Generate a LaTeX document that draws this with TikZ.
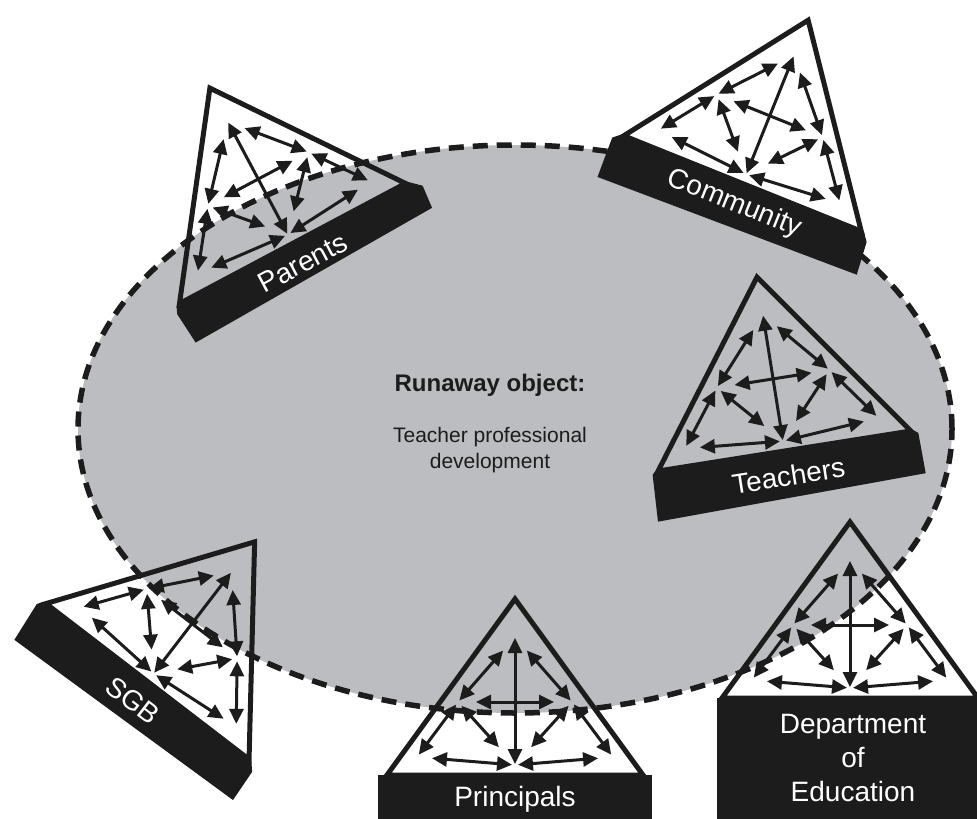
\documentclass[tikz,border=0pt]{standalone}
\usepackage{fontspec}
\setmainfont{Liberation Sans}
\usetikzlibrary{arrows.meta}
\definecolor{objgray}{RGB}{188,189,193}
\definecolor{ink}{RGB}{28,28,28}

\begin{document}
\begin{tikzpicture}[x=1pt, y=1pt,
  tri/.style={draw=ink, line width=5pt, line join=miter},
  rel/.style={draw=ink, line width=3pt, {Triangle[length=15pt,width=14pt]}-{Triangle[length=15pt,width=14pt]}},
  banner/.style={fill=ink},
  lbl/.style={text=white, font=\fontsize{28}{34}\selectfont, align=center, transform shape},
  actsys/.pic={
    \draw[tri] (-128,0) -- (0,176) -- (128,0) -- cycle;
    \coordinate (-T) at (0,138);
    \coordinate (-S) at (-57,73);
    \coordinate (-O) at (57,73);
    \coordinate (-R) at (-98,18);
    \coordinate (-C) at (0,10);
    \coordinate (-D) at (98,18);
    \foreach \a/\b/\sa/\sb in {T/C/1/1, T/S/18/2, T/O/18/2, S/O/18/18, S/R/3/3,
                               S/C/5/24, O/C/5/24, O/D/3/3, R/C/15/3, C/D/3/15}
      \draw[rel, shorten <=\sa pt, shorten >=\sb pt] (-\a) -- (-\b);
  }]

  \useasboundingbox (0,0) rectangle (977,-819);
  \clip (0,0) rectangle (977,-819);

  % Runaway object
  \draw[ink, line width=5.5pt, dash pattern=on 15pt off 9pt, fill=objgray]
    (515,-429) ellipse [x radius=437, y radius=284];
  \node[text=ink, font=\bfseries\fontsize{24}{28}\selectfont] (objtitle) at (490,-385) {Runaway object:};
  \node[text=ink, font=\fontsize{21}{26}\selectfont, align=center] (objtext) at (490,-450)
    {Teacher professional\\development};

  % Parents
  \begin{scope}[shift={(292.5,-243.5)}, rotate=28]
    \fill[banner] (-131,0) -- (131,0) -- (142,-10) -- (140,-34) -- (-132,-42) -- (-135,-8) -- cycle;
    \pic[transform shape] (par) {actsys};
    \node[lbl] (parL) at (0,-22) {Parents};
  \end{scope}

  % Community
  \begin{scope}[shift={(742.5,-183.5)}, rotate=-21.9]
    \fill[banner] (-131,0) -- (131,0) -- (137,-8) -- (140,-42) -- (-137,-48) -- (-138,-6) -- cycle;
    \pic[transform shape] (com) {actsys};
    \node[lbl] (comL) at (0,-22) {Community};
  \end{scope}

  % Teachers
  \begin{scope}[shift={(784.5,-451)}, rotate=9]
    \fill[banner] (-131,0) -- (131,0) -- (135,-3) -- (136,-44) -- (-136,-50) -- (-134,-3) -- cycle;
    \pic[transform shape] (tea) {actsys};
    \node[lbl] (teaL) at (0,-25) {Teachers};
  \end{scope}

  % SGB
  \begin{scope}[shift={(147.5,-681.5)}, rotate=-37.5]
    \fill[banner] (-131,0) -- (131,0) -- (138,-8) -- (140,-42) -- (-131,-48) -- (-135,-6) -- cycle;
    \pic[transform shape] (sgb) {actsys};
    \node[lbl] (sgbL) at (0,-24) {SGB};
  \end{scope}

  % Principals
  \begin{scope}[shift={(515,-775)}]
    \fill[banner] (-137,0) rectangle (137,-50);
    \pic (prn) {actsys};
    \node[lbl] (prnL) at (0,-24) {Principals};
  \end{scope}

  % Department of Education
  \begin{scope}[shift={(850,-698)}]
    \fill[banner] (-133,0) rectangle (140,-125);
    \pic (doe) {actsys};
    \node[lbl] (doeL) at (3,-60) {Department\\of\\Education};
  \end{scope}

\end{tikzpicture}
\end{document}
